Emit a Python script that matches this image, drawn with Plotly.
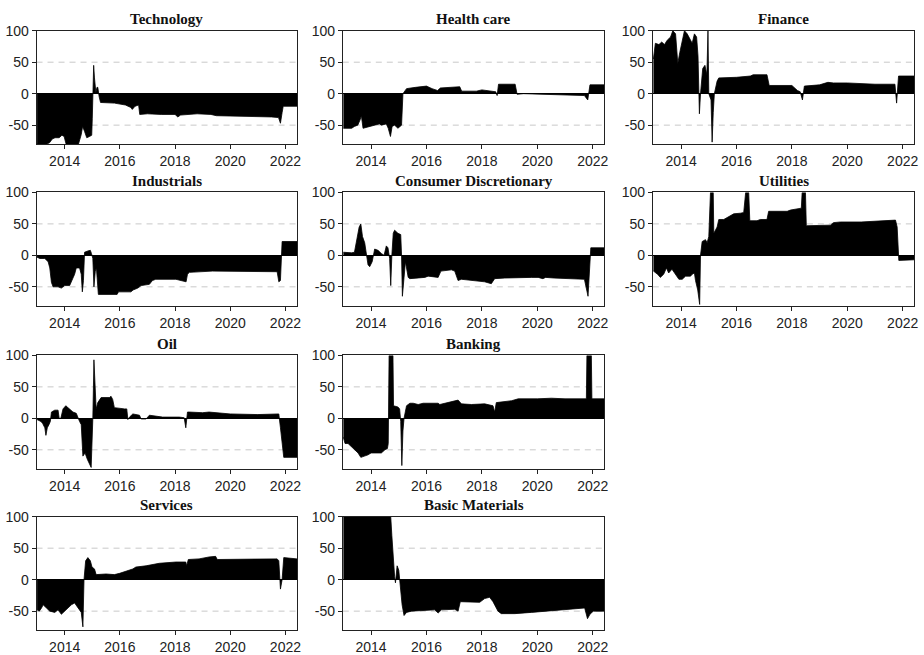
import plotly.graph_objects as go

# ---------------- data (decimal year, value) ----------------
titles = ["Technology", "Health care", "Finance", "Industrials", "Consumer Discretionary",
          "Utilities", "Oil", "Banking", "Services", "Basic Materials"]

technology = [(2013.0,-80),(2013.35,-80),(2013.45,-78),(2013.55,-72),(2013.65,-70),(2013.8,-70),(2013.9,-66),
    (2013.98,-68),(2014.05,-80),(2014.5,-80),(2014.6,-65),(2014.65,-52),(2014.72,-60),(2014.8,-70),(2014.9,-68),
    (2014.98,-66),(2015.0,-40),(2015.05,45),(2015.08,25),(2015.1,15),(2015.13,2),(2015.17,10),(2015.2,10),
    (2015.25,-5),(2015.3,-14),(2015.8,-15),(2016.2,-18),(2016.4,-22),(2016.45,-25),(2016.55,-20),(2016.68,-18),
    (2016.72,-33),(2017.0,-32),(2017.5,-33),(2018.0,-33),(2018.1,-37),(2018.2,-34),(2018.8,-32),(2019.3,-33),
    (2019.5,-35),(2020.5,-36),(2021.0,-36),(2021.5,-37),(2021.75,-38),(2021.82,-47),(2021.88,-30),(2021.92,-20),
    (2022.42,-20)]

health_care = [(2013.0,-55),(2013.3,-55),(2013.4,-52),(2013.52,-50),(2013.6,-42),(2013.65,-35),(2013.71,-55),
    (2013.9,-53),(2014.2,-50),(2014.3,-48),(2014.38,-50),(2014.55,-48),(2014.62,-55),(2014.7,-68),(2014.76,-52),
    (2014.85,-50),(2014.97,-55),(2015.03,-52),(2015.1,-50),(2015.15,0),(2015.28,8),(2015.6,10),(2016.0,12),
    (2016.2,8),(2016.4,5),(2016.5,9),(2016.8,10),(2017.2,11),(2017.27,4),(2017.8,4),(2018.0,6),(2018.4,4),
    (2018.5,3),(2018.55,-3),(2018.6,15),(2019.2,15),(2019.27,-1),(2019.5,0),(2020.3,-1),(2021.0,-1),
    (2021.7,-3),(2021.82,-10),(2021.9,14),(2022.42,14)]

finance = [(2013.0,55),(2013.07,80),(2013.2,78),(2013.3,82),(2013.4,78),(2013.5,85),(2013.62,90),(2013.7,100),
    (2013.8,95),(2013.88,48),(2013.95,65),(2014.12,100),(2014.22,95),(2014.34,85),(2014.4,80),(2014.48,95),
    (2014.56,90),(2014.61,60),(2014.66,-32),(2014.7,0),(2014.78,40),(2014.86,45),(2014.93,30),(2014.97,100),
    (2015.0,0),(2015.08,-10),(2015.12,-77),(2015.16,-30),(2015.2,0),(2015.3,20),(2015.36,25),(2016.0,26),
    (2016.5,28),(2016.6,30),(2017.1,30),(2017.18,13),(2018.0,13),(2018.2,5),(2018.3,3),(2018.38,-10),
    (2018.45,12),(2019.0,14),(2019.3,18),(2019.5,17),(2020.0,17),(2021.0,15),(2021.72,15),(2021.78,-15),
    (2021.85,28),(2022.42,28)]

industrials = [(2013.0,-3),(2013.1,-5),(2013.28,-5),(2013.4,-10),(2013.46,-20),(2013.52,-43),(2013.58,-50),
    (2013.76,-50),(2013.88,-52),(2014.0,-48),(2014.18,-48),(2014.24,-42),(2014.36,-30),(2014.42,-20),
    (2014.54,-20),(2014.6,-30),(2014.64,-58),(2014.68,-40),(2014.72,5),(2014.84,7),(2014.93,8),(2014.97,3),
    (2015.02,-5),(2015.06,-50),(2015.11,-25),(2015.15,-20),(2015.22,-62),(2015.9,-62),(2015.95,-58),
    (2016.4,-58),(2016.48,-55),(2016.65,-52),(2016.77,-48),(2017.07,-46),(2017.18,-40),(2017.3,-38),
    (2018.03,-38),(2018.4,-42),(2018.45,-30),(2018.52,-27),(2018.88,-26),(2019.35,-25),(2021.7,-26),
    (2021.76,-42),(2021.82,-40),(2021.88,22),(2022.42,22)]

consumer_discretionary = [(2013.0,5),(2013.3,4),(2013.4,5),(2013.47,20),(2013.57,45),(2013.63,50),(2013.69,30),
    (2013.77,20),(2013.83,0),(2013.89,-15),(2013.95,-18),(2014.04,-10),(2014.13,10),(2014.25,8),(2014.37,3),
    (2014.47,0),(2014.55,15),(2014.61,12),(2014.67,-5),(2014.71,-48),(2014.75,0),(2014.8,35),(2014.85,40),
    (2014.97,35),(2015.07,33),(2015.1,0),(2015.13,-65),(2015.19,-30),(2015.24,-10),(2015.34,-35),(2015.4,-37),
    (2015.94,-35),(2016.06,-33),(2016.42,-35),(2016.52,-25),(2016.9,-23),(2017.02,-25),(2017.14,-40),
    (2017.26,-38),(2018.1,-42),(2018.34,-45),(2018.46,-37),(2018.83,-36),(2019.79,-35),(2020.03,-35),
    (2020.2,-37),(2020.3,-35),(2020.6,-36),(2021.7,-38),(2021.83,-65),(2021.93,12),(2022.42,12)]

utilities = [(2013.0,-25),(2013.15,-30),(2013.25,-35),(2013.37,-30),(2013.47,-20),(2013.55,-28),(2013.67,-22),
    (2013.8,-30),(2013.92,-38),(2014.04,-38),(2014.16,-33),(2014.34,-33),(2014.4,-30),(2014.48,-28),
    (2014.52,-40),(2014.6,-55),(2014.67,-78),(2014.7,0),(2014.76,22),(2014.88,25),(2014.94,20),(2015.0,30),
    (2015.06,100),(2015.16,100),(2015.18,35),(2015.3,45),(2015.36,57),(2015.54,57),(2015.66,60),(2015.78,63),
    (2015.9,66),(2016.14,67),(2016.26,68),(2016.33,100),(2016.44,100),(2016.48,55),(2016.74,55),(2016.86,57),
    (2017.1,57),(2017.16,70),(2017.83,70),(2017.95,72),(2018.25,74),(2018.34,75),(2018.37,100),(2018.49,100),
    (2018.52,47),(2019.03,47),(2019.39,48),(2019.5,52),(2019.75,53),(2020.5,53),(2021.0,54),(2021.32,55),
    (2021.74,56),(2021.8,45),(2021.86,-8),(2022.42,-7)]

oil = [(2013.0,-2),(2013.14,-5),(2013.2,-8),(2013.28,-15),(2013.32,-27),(2013.37,-15),(2013.43,-10),(2013.48,-5),
    (2013.52,10),(2013.64,13),(2013.76,13),(2013.8,0),(2013.86,0),(2013.94,15),(2014.04,20),(2014.18,15),
    (2014.3,10),(2014.42,8),(2014.48,0),(2014.54,-5),(2014.6,-10),(2014.66,-60),(2014.74,-55),(2014.82,-65),
    (2014.96,-78),(2015.02,0),(2015.06,93),(2015.1,60),(2015.14,15),(2015.2,25),(2015.32,33),(2015.62,33),
    (2015.68,35),(2015.74,30),(2015.8,17),(2016.17,15),(2016.25,15),(2016.29,-2),(2016.35,2),(2016.47,7),
    (2016.71,5),(2016.77,-1),(2016.95,-1),(2017.07,5),(2017.3,4),(2017.55,2),(2018.15,2),(2018.33,1),
    (2018.39,-15),(2018.45,10),(2018.51,10),(2019.0,9),(2019.23,10),(2019.6,8),(2020.0,7),(2021.0,6),
    (2021.64,7),(2021.76,7),(2021.82,-15),(2021.94,-62),(2022.42,-62)]

banking = [(2013.0,-30),(2013.06,-40),(2013.17,-40),(2013.29,-45),(2013.41,-50),(2013.53,-55),(2013.63,-62),
    (2013.77,-60),(2013.89,-58),(2014.0,-55),(2014.37,-55),(2014.5,-50),(2014.59,-48),(2014.62,-40),
    (2014.65,100),(2014.79,100),(2014.81,20),(2014.97,18),(2015.03,15),(2015.07,-5),(2015.11,-75),(2015.15,-20),
    (2015.19,0),(2015.28,20),(2015.4,24),(2015.52,24),(2015.7,22),(2015.88,24),(2016.42,24),(2016.48,22),
    (2016.78,25),(2017.14,29),(2017.26,23),(2017.62,22),(2018.1,23),(2018.4,20),(2018.46,10),(2018.52,25),
    (2019.07,28),(2019.31,31),(2020.0,31),(2020.51,32),(2021.0,31),(2021.77,31),(2021.79,100),(2021.95,100),
    (2021.97,31),(2022.42,31)]

services = [(2013.0,-48),(2013.08,-50),(2013.16,-45),(2013.22,-40),(2013.34,-45),(2013.46,-50),(2013.64,-52),
    (2013.76,-48),(2013.88,-55),(2014.0,-50),(2014.12,-45),(2014.24,-40),(2014.36,-37),(2014.48,-45),
    (2014.6,-52),(2014.66,-75),(2014.7,0),(2014.76,30),(2014.84,35),(2014.93,30),(2014.99,20),(2015.08,17),
    (2015.14,8),(2015.5,9),(2015.8,8),(2015.99,10),(2016.47,17),(2016.58,20),(2016.95,22),(2017.43,26),
    (2018.03,28),(2018.39,28),(2018.42,22),(2018.48,32),(2018.87,33),(2019.23,36),(2019.47,37),(2019.53,32),
    (2020.5,32),(2021.0,33),(2021.7,33),(2021.76,30),(2021.82,-15),(2021.88,0),(2021.94,35),(2022.42,33)]

basic_materials = [(2013.0,100),(2014.71,100),(2014.75,70),(2014.79,40),(2014.85,5),(2014.88,-5),(2014.94,22),
    (2015.0,15),(2015.03,0),(2015.07,-10),(2015.12,-40),(2015.19,-57),(2015.28,-52),(2015.46,-50),(2015.82,-49),
    (2016.3,-48),(2016.42,-53),(2016.54,-48),(2017.02,-47),(2017.14,-50),(2017.22,-35),(2017.62,-35),
    (2017.92,-36),(2018.1,-30),(2018.28,-28),(2018.4,-35),(2018.58,-50),(2018.7,-54),(2019.19,-54),
    (2019.79,-52),(2020.75,-48),(2021.71,-45),(2021.81,-62),(2021.9,-55),(2022.02,-50),(2022.42,-50)]

x_ticks = [2014, 2016, 2018, 2020, 2022]
y_ticks = [-50, 0, 50, 100]
y_ticktext = ["-50", "0", "50", "100"]

series = [technology, health_care, finance, industrials, consumer_discretionary,
          utilities, oil, banking, services, basic_materials]

# ---------------- layout geometry ----------------
W, H = 924, 655
col_px = [(36.7, 298.3), (344.3, 607.0), (655.7, 918.3)]
row_px = [(23.0, 137.7), (186.7, 301.4), (351.7, 466.4), (515.0, 629.7)]
positions = [(0, 0), (0, 1), (0, 2), (1, 0), (1, 1), (1, 2), (2, 0), (2, 1), (3, 0), (3, 1)]

fig = go.Figure()
annotations = []
shapes = []
axis_font = dict(family="Liberation Sans, Arial, sans-serif", size=14, color="#222222")

for i, (data, title, (r, c)) in enumerate(zip(series, titles, positions)):
    idx = "" if i == 0 else str(i + 1)
    xs = [p[0] for p in data]
    ys = [p[1] for p in data]
    fig.add_trace(go.Scatter(
        x=xs, y=ys, mode="lines", fill="tozeroy",
        fillcolor="black", line=dict(color="black", width=0.8),
        xaxis="x" + idx, yaxis="y" + idx, showlegend=False, hoverinfo="skip"))
    x0, x1 = col_px[c]
    t0, t1 = row_px[r]
    xd = [x0 / W, x1 / W]
    yd = [1 - t1 / H, 1 - t0 / H]
    fig.layout["xaxis" + idx] = dict(
        domain=xd, anchor="y" + idx, range=[2012.98, 2022.42],
        tickvals=x_ticks, ticktext=[str(v) for v in x_ticks],
        ticks="outside", ticklen=4, tickcolor="#222222",
        showline=True, linecolor="#222222", linewidth=1, mirror=True,
        showgrid=False, zeroline=False, tickfont=axis_font, fixedrange=True)
    fig.layout["yaxis" + idx] = dict(
        domain=yd, anchor="x" + idx, range=[-80, 100],
        tickvals=y_ticks, ticktext=y_ticktext,
        ticks="outside", ticklen=4, tickcolor="#222222",
        showline=True, linecolor="#222222", linewidth=1, mirror=True,
        showgrid=False, zeroline=True, zerolinecolor="black", zerolinewidth=1,
        tickfont=axis_font, fixedrange=True)
    for lvl in (50, -50):
        shapes.append(dict(type="line", xref="x" + idx + " domain", yref="y" + idx,
                           x0=0, x1=1, y0=lvl, y1=lvl, layer="below",
                           line=dict(color="#c8c8c8", width=1, dash="6px,5px")))
    annotations.append(dict(
        text="<b>" + title + "</b>", xref="paper", yref="paper",
        x=(x0 + x1) / 2 / W, y=1 - (t0 - 12) / H, xanchor="center", yanchor="middle",
        showarrow=False,
        font=dict(family="Liberation Serif, Times New Roman, serif", size=15, color="#111111")))

fig.update_layout(
    width=W, height=H, margin=dict(l=0, r=0, t=0, b=0),
    paper_bgcolor="white", plot_bgcolor="white",
    annotations=annotations, shapes=shapes)

pin_script = (
    "document.documentElement.style.margin='0';"
    "document.body.style.margin='0';document.body.style.padding='0';"
    "document.body.style.overflow='hidden';"
    "var d=document.getElementById('{plot_id}');"
    "d.style.position='absolute';d.style.left='0px';d.style.top='0px';"
)

fig.write_html("out.html", post_script=pin_script, config={"displayModeBar": False})
